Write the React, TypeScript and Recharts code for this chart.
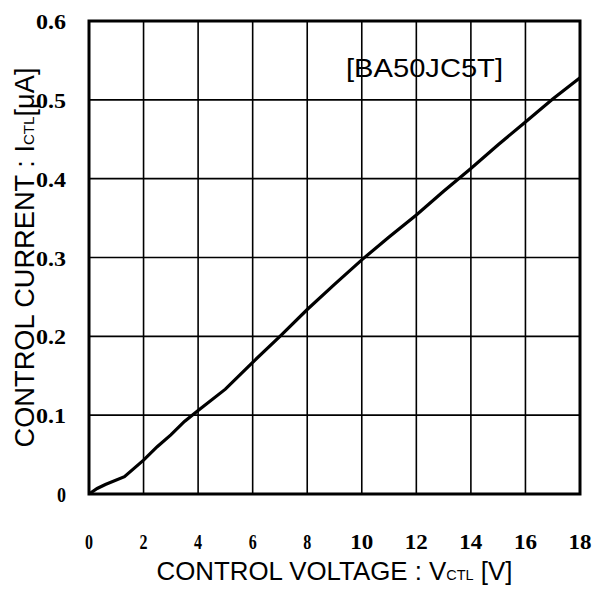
import {
  LineChart,
  Line,
  CartesianGrid,
  XAxis,
  YAxis,
  ReferenceArea,
  Label,
} from "recharts";

// control voltage [V] and control current [uA]
const voltage = [0, 0.3, 0.6, 1.3, 2, 2.5, 3, 3.5, 4, 5, 6, 7, 8, 9, 10, 11, 12, 13, 14, 15, 16, 17, 18];
const current = [
  0, 0.007, 0.012, 0.022, 0.043, 0.06, 0.075, 0.092, 0.106, 0.133, 0.167, 0.2, 0.234,
  0.266, 0.297, 0.326, 0.354, 0.384, 0.413, 0.443, 0.472, 0.501, 0.528,
];
const xTicks = [0, 2, 4, 6, 8, 10, 12, 14, 16, 18];
const yTicks = [0, 0.1, 0.2, 0.3, 0.4, 0.5, 0.6];
const modelName = "[BA50JC5T]";

const data = voltage.map((v, i) => ({ v, i: current[i] }));

const SANS = "'Liberation Sans', Arial, sans-serif";
const SERIF = "'Liberation Serif', 'Times New Roman', serif";

function XTick(props: any) {
  const { x, y, payload } = props;
  const s = String(payload.value);
  return (
    <text
      x={x}
      y={y + 55}
      textAnchor="middle"
      fontFamily={SERIF}
      fontSize={22}
      fontWeight="bold"
      textLength={s.length * 8 + (s.length - 1) * 7}
      lengthAdjust="spacingAndGlyphs"
      fill="#000"
    >
      {s}
    </text>
  );
}

function YTick(props: any) {
  const { x, y, payload } = props;
  const s = payload.value === 0 ? "0" : payload.value.toFixed(1);
  return (
    <text
      x={x - 23}
      y={y + 8}
      textAnchor="end"
      fontFamily={SERIF}
      fontSize={20}
      fontWeight="bold"
      textLength={s.length === 1 ? 9 : 30}
      lengthAdjust="spacingAndGlyphs"
      fill="#000"
    >
      {s}
    </text>
  );
}

export default function App() {
  return (
    <div style={{ position: "absolute", left: 0, top: 0, width: 596, height: 590, background: "#fff" }}>
      <LineChart
        width={596}
        height={590}
        data={data}
        margin={{ top: 21, right: 16, bottom: 0, left: 0 }}
      >
        <CartesianGrid stroke="#000" strokeWidth={1.6} horizontalValues={yTicks} verticalValues={xTicks} />
        <XAxis
          type="number"
          dataKey="v"
          domain={[0, 18]}
          ticks={xTicks}
          height={96}
          axisLine={false}
          tickLine={false}
          tickSize={0}
          tickMargin={0}
          tick={<XTick />}
          interval={0}
        >
          <Label
            content={(p: any) => {
              const vb = p.viewBox;
              return (
                <text
                  x={vb.x + vb.width / 2}
                  y={vb.y + 86}
                  textAnchor="middle"
                  fontFamily={SANS}
                  fontSize={25}
                  textLength={356}
                  lengthAdjust="spacingAndGlyphs"
                  fill="#000"
                >
                  CONTROL VOLTAGE : V<tspan fontSize={14}>CTL</tspan> [V]
                </text>
              );
            }}
          />
        </XAxis>
        <YAxis
          type="number"
          domain={[0, 0.6]}
          ticks={yTicks}
          width={89}
          axisLine={false}
          tickLine={false}
          tickSize={0}
          tickMargin={0}
          tick={<YTick />}
          interval={0}
        >
          <Label
            content={(p: any) => {
              const vb = p.viewBox;
              const cx = 34;
              const cy = vb.y + vb.height / 2;
              return (
                <text
                  x={cx}
                  y={cy}
                  transform={`rotate(-90, ${cx}, ${cy})`}
                  textAnchor="middle"
                  fontFamily={SANS}
                  fontSize={27}
                  textLength={380}
                  lengthAdjust="spacingAndGlyphs"
                  fill="#000"
                >
                  CONTROL CURRENT : I<tspan fontSize={15}>CTL</tspan>[μA]
                </text>
              );
            }}
          />
        </YAxis>
        <ReferenceArea
          x1={0}
          x2={18}
          y1={0}
          y2={0.6}
          fill="none"
          stroke="#000"
          strokeWidth={3}
          ifOverflow="visible"
        >
          <Label
            content={(p: any) => {
              const vb = p.viewBox;
              return (
                <text
                  x={vb.x + 257}
                  y={vb.y + 56}
                  fontFamily={SANS}
                  fontSize={25}
                  textLength={157}
                  lengthAdjust="spacingAndGlyphs"
                  fill="#000"
                >
                  {modelName}
                </text>
              );
            }}
          />
        </ReferenceArea>
        <Line
          type="linear"
          dataKey="i"
          stroke="#000"
          strokeWidth={3.2}
          dot={false}
          isAnimationActive={false}
        />
      </LineChart>
    </div>
  );
}
